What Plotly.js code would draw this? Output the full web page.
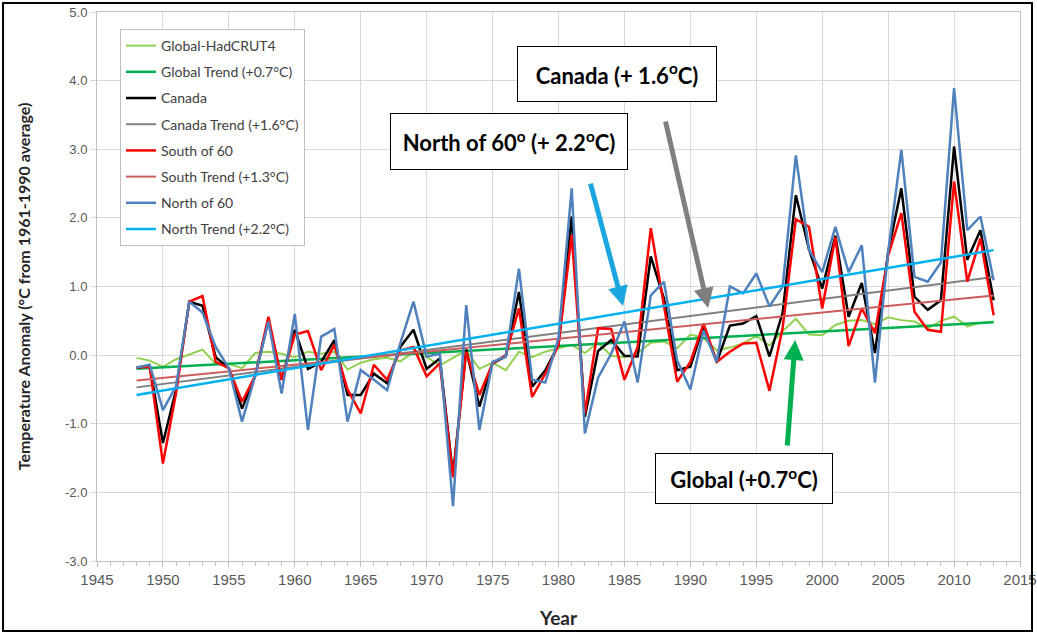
<!DOCTYPE html>
<html><head><meta charset="utf-8">
<script src="https://cdn.plot.ly/plotly-3.0.1.min.js"></script>
<style>html,body{margin:0;padding:0;background:#fff;} #chart{width:1037px;height:634px;}</style>
</head><body><div id="chart"></div>
<script>
const years = [1948,1949,1950,1951,1952,1953,1954,1955,1956,1957,1958,1959,
  1960,1961,1962,1963,1964,1965,1966,1967,1968,1969,
  1970,1971,1972,1973,1974,1975,1976,1977,1978,1979,
  1980,1981,1982,1983,1984,1985,1986,1987,1988,1989,
  1990,1991,1992,1993,1994,1995,1996,1997,1998,1999,
  2000,2001,2002,2003,2004,2005,2006,2007,2008,2009,
  2010,2011,2012,2013];
const globalHadCRUT4 = [-0.04,-0.08,-0.17,-0.06,0.01,0.08,-0.13,-0.13,-0.19,0.03,0.05,0.02,
  -0.03,0.05,0.02,0.05,-0.21,-0.11,-0.06,-0.04,-0.09,0.04,
  -0.03,-0.15,-0.04,0.07,-0.20,-0.11,-0.22,0.05,-0.03,0.05,
  0.10,0.15,0.03,0.18,-0.01,-0.03,0.03,0.18,0.20,0.10,
  0.30,0.25,0.07,0.11,0.17,0.28,0.14,0.35,0.53,0.30,
  0.29,0.44,0.50,0.51,0.45,0.55,0.51,0.49,0.39,0.50,
  0.56,0.42,0.47,0.49];
const canada = [-0.18,-0.16,-1.28,-0.50,0.78,0.72,-0.03,-0.19,-0.78,-0.30,0.51,-0.36,
  0.37,-0.20,-0.10,0.22,-0.58,-0.58,-0.27,-0.41,0.12,0.37,
  -0.20,-0.05,-1.75,0.08,-0.75,-0.12,-0.02,0.92,-0.46,-0.22,
  0.15,2.02,-0.90,0.06,0.22,-0.01,-0.02,1.44,0.82,-0.22,
  -0.17,0.43,-0.10,0.43,0.46,0.57,-0.02,0.62,2.33,1.54,
  0.97,1.74,0.56,1.05,0.03,1.50,2.43,0.85,0.66,0.80,
  3.04,1.39,1.82,0.80];
const southOf60 = [-0.18,-0.17,-1.58,-0.55,0.78,0.86,-0.10,-0.19,-0.68,-0.30,0.56,-0.36,
  0.30,0.35,-0.22,0.15,-0.50,-0.85,-0.14,-0.36,0.07,0.12,
  -0.31,-0.12,-1.78,0.05,-0.58,-0.12,0.00,0.68,-0.61,-0.27,
  0.15,1.75,-0.85,0.39,0.38,-0.36,0.12,1.85,0.72,-0.39,
  -0.10,0.46,-0.10,0.05,0.17,0.18,-0.52,0.40,1.98,1.87,
  0.68,1.72,0.13,0.68,0.32,1.45,2.07,0.63,0.37,0.34,
  2.53,1.07,1.70,0.58];
const northOf60 = [-0.18,-0.14,-0.80,-0.45,0.78,0.62,0.12,-0.19,-0.97,-0.30,0.49,-0.56,
  0.60,-1.09,0.27,0.38,-0.97,-0.22,-0.36,-0.51,0.17,0.78,
  -0.02,0.02,-2.20,0.73,-1.09,-0.10,-0.02,1.26,-0.36,-0.40,
  0.25,2.43,-1.14,-0.33,0.02,0.49,-0.40,0.87,1.07,-0.08,
  -0.50,0.36,-0.10,1.00,0.90,1.19,0.71,1.00,2.91,1.53,
  1.21,1.87,1.21,1.60,-0.40,1.50,2.99,1.14,1.07,1.35,
  3.89,1.82,2.02,1.09];
const trendYears = [1948, 2013];
const globalTrend = [-0.20, 0.48];
const canadaTrend = [-0.47, 1.14];
const southTrend = [-0.37, 0.87];
const northTrend = [-0.58, 1.53];
const seriesNames = ['Global-HadCRUT4','Global Trend (+0.7°C)','Canada','Canada Trend (+1.6°C)',
  'South of 60','South Trend (+1.3°C)','North of 60','North Trend (+2.2°C)'];
const xTickVals = [1945,1950,1955,1960,1965,1970,1975,1980,1985,1990,1995,2000,2005,2010,2015];
const yTickVals = [-3,-2,-1,0,1,2,3,4,5];
const yTickText = ['-3.0','-2.0','-1.0','0.0','1.0','2.0','3.0','4.0','5.0'];
const calloutTexts = ['<b>Canada (+ 1.6<sup>o</sup>C)</b>',
  '<b>North of 60<sup>o</sup> (+ 2.2<sup>o</sup>C)</b>',
  '<b>Global (+0.7<sup>o</sup>C)</b>'];

const seriesY = [globalHadCRUT4, globalTrend, canada, canadaTrend, southOf60, southTrend, northOf60, northTrend];
const colors = ['#92D050','#00B050','#000000','#808080','#FF0000','#CD5C5C','#4F81BD','#00B0F0'];
const widths = [2,2.5,2.5,2,2.5,2,2.5,2.5];
const traces = seriesY.map((ys, i) => ({
  type: 'scatter', mode: 'lines',
  x: (i % 2 === 1) ? trendYears : years,
  y: ys, name: seriesNames[i], legendgroup: 'g' + i,
  line: {color: colors[i], width: widths[i]},
  hoverinfo: 'x+y+name'
}));

const boxFont = {family: 'Lato, "Liberation Sans", sans-serif', size: 22, color: '#000'};
const layout = {
  width: 1037, height: 634,
  margin: {l: 97, r: 17, t: 12, b: 73, pad: 0},
  paper_bgcolor: '#fff', plot_bgcolor: '#fff',
  showlegend: true,
  xaxis: {
    range: [1945, 2015], tickvals: xTickVals, ticktext: xTickVals.map(String),
    showgrid: true, gridcolor: '#D9D9D9', gridwidth: 1,
    showline: true, linecolor: '#BFBFBF', linewidth: 1, mirror: true,
    ticks: 'outside', ticklen: 5, tickcolor: '#BFBFBF',
    minor: {dtick: 1, ticks: 'outside', ticklen: 4, tickcolor: '#BFBFBF', showgrid: false},
    tickfont: {family: '"Liberation Sans Narrow", "Liberation Sans", sans-serif', size: 15, color: '#595959'},
    zeroline: false,
    title: {text: '<b>Year</b>', font: {family: 'Lato, "Liberation Sans", sans-serif', size: 19, color: '#262626'}, standoff: 24}
  },
  yaxis: {
    range: [-3, 5], tickvals: yTickVals, ticktext: yTickText,
    showgrid: true, gridcolor: '#D9D9D9', gridwidth: 1,
    showline: true, linecolor: '#BFBFBF', linewidth: 1, mirror: true,
    ticks: 'outside', ticklen: 6, tickcolor: '#D9D9D9',
    tickfont: {family: '"Liberation Sans", Arial, sans-serif', size: 13, color: '#595959'},
    zeroline: false,
    title: {text: '<b>Temperature Anomaly (°C from 1961-1990 average)</b>', font: {family: 'Lato, "Liberation Sans", sans-serif', size: 16, color: '#262626'}, standoff: 30}
  },
  legend: {
    x: 0.0249, y: 0.969, xanchor: 'left', yanchor: 'top',
    bgcolor: '#FFFFFF', bordercolor: '#BFBFBF', borderwidth: 1,
    font: {family: 'Lato, "Liberation Sans", sans-serif', size: 14, color: '#404040'},
    traceorder: 'grouped', tracegroupgap: 5, itemwidth: 30
  },
  annotations: [
    {xref: 'paper', yref: 'paper', x: 0.5634, y: 0.8871, xanchor: 'center', yanchor: 'middle',
     text: calloutTexts[0], showarrow: false, bordercolor: '#000', borderwidth: 1, borderpad: 1,
     bgcolor: '#fff', width: 196, height: 52, font: boxFont},
    {xref: 'paper', yref: 'paper', x: 0.4464, y: 0.7641, xanchor: 'center', yanchor: 'middle',
     text: calloutTexts[1], showarrow: false, bordercolor: '#000', borderwidth: 1, borderpad: 1,
     bgcolor: '#fff', width: 234, height: 53, font: boxFont},
    {xref: 'paper', yref: 'paper', x: 0.701, y: 0.1503, xanchor: 'center', yanchor: 'middle',
     text: calloutTexts[2], showarrow: false, bordercolor: '#000', borderwidth: 1, borderpad: 1,
     bgcolor: '#fff', width: 174, height: 47, font: boxFont},
    {xref: 'x', yref: 'y', x: 1984.9, y: 0.715, ax: -33, ay: -124, text: '', showarrow: true,
     arrowhead: 2, arrowsize: 0.8, arrowwidth: 5, arrowcolor: '#1CA6E0'},
    {xref: 'x', yref: 'y', x: 1991.35, y: 0.686, ax: -43, ay: -188, text: '', showarrow: true,
     arrowhead: 2, arrowsize: 0.8, arrowwidth: 5, arrowcolor: '#7F7F7F'},
    {xref: 'x', yref: 'y', x: 1997.95, y: 0.22, ax: -8, ay: 107, text: '', showarrow: true,
     arrowhead: 2, arrowsize: 0.8, arrowwidth: 5, arrowcolor: '#00B050'}
  ],
  shapes: [
    {type: 'rect', xref: 'paper', yref: 'paper', x0: -0.1018, x1: 1.013, y0: -0.1275, y1: 1.0164,
     line: {color: '#000', width: 2}, fillcolor: 'rgba(0,0,0,0)', layer: 'above'}
  ]
};
Plotly.newPlot('chart', traces, layout, {displayModeBar: false, staticPlot: true});
</script>
</body></html>
